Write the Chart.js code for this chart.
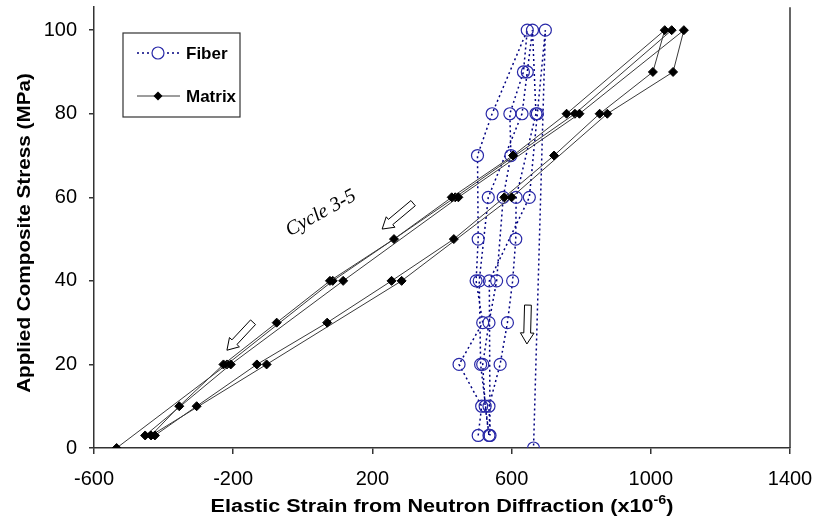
<!DOCTYPE html>
<html>
<head>
<meta charset="utf-8">
<script src="https://cdn.jsdelivr.net/npm/chart.js@4.4.1/dist/chart.umd.min.js"></script>
<style>
html,body{margin:0;padding:0;background:#fff;}
#wrap{width:815px;height:531px;position:relative;}
</style>
</head>
<body>
<div id="wrap"><canvas id="c" width="815" height="531"></canvas></div>
<script>
// ---- DATA ----
const xTicks = [-600, -200, 200, 600, 1000, 1400];
const yTicks = [0, 20, 40, 60, 80, 100];

const fiberStrain = [504, 514, 449, 517, 498, 504, 502, 544, 645, 634, 595, 598, 576, 557, 535, 517, 524, 535, 511, 507, 533, 630, 645, 660, 670, 613, 612, 603, 588, 567, 535, 538, 536, 651, 674, 697, 663];
const fiberStress = [3, 10, 20, 30, 40, 50, 70, 80, 100, 90, 80, 70, 60, 40, 30, 20, 10, 3, 20, 40, 60, 80, 90, 100, 80, 60, 50, 40, 30, 20, 10, 3, 40, 60, 80, 100, 0];

const matrixStrain = [-425, -305, -132, 70, 255, 434, 579, 722, 853, 1006, 1040, 758, 604, 428, 262, 78, -75, -228, -355, -436, -104, 284, 600, 875, 1064, 1095, 795, 447, 116, -207, -453];
const matrixStress = [3, 10, 20, 30, 40, 50, 60, 70, 80, 90, 100, 80, 70, 60, 50, 40, 30, 20, 10, 3, 20, 40, 60, 80, 90, 100, 80, 60, 40, 20, 3];

const matrixLastStrain = [1060, 782, 438, 86, -218, -535];
const matrixLastStress = [100, 80, 60, 40, 20, 0];

const seriesNames = ["Fiber", "Matrix"];
const annotationText = "Cycle 3-5";
// arrows: [x, y] in data units
const arrowTails = [[317, 58.6], [-143, 30.1], [647, 34.2]];
const arrowHeads = [[228, 52.4], [-218, 23.4], [644, 24.9]];
const annotationPos = [52, 56.2];

function pts(xs, ys) { return xs.map((x, i) => ({x: x, y: ys[i]})); }

const FONT = "'Liberation Sans', Arial, sans-serif";
const FIBER_LINE = '#000080';
const FIBER_PT = '#2828a8';
const MATRIX_LINE = '#3a3a3a';

function stretchedText(ctx, text, x, y, sx) {
  ctx.save();
  ctx.translate(x, y);
  ctx.scale(sx, 1);
  ctx.fillText(text, 0, 0);
  ctx.restore();
}

const drawPlugin = {
  id: 'extras',
  afterDraw(chart) {
    const ctx = chart.ctx;
    const a = chart.chartArea;
    const xs = chart.scales.x, ys = chart.scales.y;
    ctx.save();
    // right border
    ctx.strokeStyle = '#333';
    ctx.lineWidth = 1.5;
    ctx.beginPath();
    ctx.moveTo(a.right, a.top);
    ctx.lineTo(a.right, a.bottom);
    ctx.stroke();

    // arrows
    arrowTails.forEach((t, i) => {
      const h = arrowHeads[i];
      const x0 = xs.getPixelForValue(t[0]), y0 = ys.getPixelForValue(t[1]);
      const x1 = xs.getPixelForValue(h[0]), y1 = ys.getPixelForValue(h[1]);
      const dx = x1 - x0, dy = y1 - y0;
      const L = Math.hypot(dx, dy);
      const ux = dx / L, uy = dy / L;
      const nx = -uy, ny = ux;
      const sw = 3.4, hw = 6.8, hl = 11;
      const bx = x1 - ux * hl, by = y1 - uy * hl;
      ctx.beginPath();
      ctx.moveTo(x0 + nx * sw, y0 + ny * sw);
      ctx.lineTo(bx + nx * sw, by + ny * sw);
      ctx.lineTo(bx + nx * hw, by + ny * hw);
      ctx.lineTo(x1, y1);
      ctx.lineTo(bx - nx * hw, by - ny * hw);
      ctx.lineTo(bx - nx * sw, by - ny * sw);
      ctx.lineTo(x0 - nx * sw, y0 - ny * sw);
      ctx.closePath();
      ctx.fillStyle = '#fff';
      ctx.fill();
      ctx.strokeStyle = '#000';
      ctx.lineWidth = 1;
      ctx.stroke();
    });

    // annotation text
    ctx.save();
    ctx.translate(xs.getPixelForValue(annotationPos[0]), ys.getPixelForValue(annotationPos[1]));
    ctx.rotate(-29 * Math.PI / 180);
    ctx.font = "italic 20px 'Liberation Serif', 'Times New Roman', serif";
    ctx.fillStyle = '#000';
    ctx.textAlign = 'center';
    ctx.textBaseline = 'middle';
    ctx.fillText(annotationText, 0, 0);
    ctx.restore();

    // legend
    const lx = 123, ly = 33, lw = 117, lh = 84;
    ctx.fillStyle = '#fff';
    ctx.fillRect(lx, ly, lw, lh);
    ctx.strokeStyle = '#333';
    ctx.lineWidth = 1.2;
    ctx.strokeRect(lx, ly, lw, lh);
    const rows = [53, 96];
    ctx.strokeStyle = FIBER_LINE;
    ctx.lineWidth = 1.5;
    ctx.setLineDash([2, 3]);
    ctx.beginPath(); ctx.moveTo(137, rows[0]); ctx.lineTo(180, rows[0]); ctx.stroke();
    ctx.setLineDash([]);
    ctx.fillStyle = '#fff';
    ctx.strokeStyle = FIBER_PT;
    ctx.lineWidth = 1.2;
    ctx.beginPath(); ctx.arc(158, rows[0], 6, 0, Math.PI * 2); ctx.fill(); ctx.stroke();
    ctx.strokeStyle = MATRIX_LINE;
    ctx.lineWidth = 1;
    ctx.beginPath(); ctx.moveTo(137, rows[1]); ctx.lineTo(180, rows[1]); ctx.stroke();
    ctx.fillStyle = '#000';
    ctx.beginPath();
    ctx.moveTo(158, rows[1] - 4.5); ctx.lineTo(162.5, rows[1]); ctx.lineTo(158, rows[1] + 4.5); ctx.lineTo(153.5, rows[1]);
    ctx.closePath(); ctx.fill();
    ctx.font = "bold 17px " + FONT;
    ctx.fillStyle = '#000';
    ctx.textAlign = 'left';
    ctx.textBaseline = 'middle';
    ctx.fillText(seriesNames[0], 186, rows[0] + 1);
    ctx.fillText(seriesNames[1], 186, rows[1] + 1);

    // y title (slightly stretched along its reading direction)
    ctx.save();
    ctx.translate(25, 233);
    ctx.rotate(-Math.PI / 2);
    ctx.font = "bold 18px " + FONT;
    ctx.textAlign = 'center';
    ctx.textBaseline = 'middle';
    stretchedText(ctx, 'Applied Composite Stress (MPa)', 0, 0, 1.15);
    ctx.restore();

    // x title with superscript
    const sx = 1.2;
    const t1 = 'Elastic Strain from Neutron Diffraction (x10';
    const t2 = '-6';
    const t3 = ')';
    const f1 = "bold 18px " + FONT, f2 = "bold 12px " + FONT;
    ctx.font = f1; const w1 = ctx.measureText(t1).width * sx; const w3 = ctx.measureText(t3).width * sx;
    ctx.font = f2; const w2 = ctx.measureText(t2).width * sx;
    const total = w1 + w2 + w3;
    let cx = (a.left + a.right) / 2 - total / 2;
    const by = 512;
    ctx.textAlign = 'left';
    ctx.textBaseline = 'alphabetic';
    ctx.font = f1; stretchedText(ctx, t1, cx, by, sx); cx += w1;
    ctx.font = f2; stretchedText(ctx, t2, cx, by - 8, sx); cx += w2;
    ctx.font = f1; stretchedText(ctx, t3, cx, by, sx);
    ctx.restore();
  }
};

const chart = new Chart(document.getElementById('c'), {
  type: 'scatter',
  data: {
    datasets: [
      {
        label: seriesNames[1],
        data: pts(matrixStrain, matrixStress),
        showLine: true,
        borderColor: MATRIX_LINE,
        borderWidth: 1,
        pointStyle: 'rectRot',
        pointRadius: 4.5,
        pointBackgroundColor: '#000',
        pointBorderColor: '#000',
        pointBorderWidth: 1,
        tension: 0,
        order: 0
      },
      {
        label: seriesNames[1] + ' (cycle 5)',
        data: pts(matrixLastStrain, matrixLastStress),
        showLine: true,
        borderColor: MATRIX_LINE,
        borderWidth: 1,
        pointStyle: 'rectRot',
        pointRadius: 4.5,
        pointBackgroundColor: '#000',
        pointBorderColor: '#000',
        pointBorderWidth: 1,
        tension: 0,
        order: 0
      },
      {
        label: seriesNames[0],
        data: pts(fiberStrain, fiberStress),
        showLine: true,
        borderColor: FIBER_LINE,
        borderWidth: 1.5,
        borderDash: [2, 3],
        pointStyle: 'circle',
        pointRadius: 6,
        pointBackgroundColor: 'rgba(255,255,255,0)',
        pointBorderColor: FIBER_PT,
        pointBorderWidth: 1.2,
        tension: 0,
        order: 1
      }
    ]
  },
  options: {
    responsive: false,
    animation: false,
    devicePixelRatio: 1,
    layout: { padding: { left: 0, right: 25, top: 3, bottom: 0 } },
    plugins: { legend: { display: false }, tooltip: { enabled: false } },
    scales: {
      x: {
        type: 'linear',
        min: xTicks[0],
        max: xTicks[xTicks.length - 1],
        afterBuildTicks: s => { s.ticks = xTicks.map(v => ({value: v})); },
        afterFit: s => { s.height = 83; s.paddingLeft = 0; s.paddingRight = 0; },
        grid: { drawOnChartArea: false, drawTicks: true, tickLength: 6, color: '#333', lineWidth: 1.5 },
        border: { display: true, color: '#333', width: 1.5 },
        ticks: { color: '#000', font: { family: FONT, size: 20 }, padding: 13, maxRotation: 0, callback: v => String(v) }
      },
      y: {
        type: 'linear',
        min: 0,
        max: 105.5,
        afterBuildTicks: s => { s.ticks = yTicks.map(v => ({value: v})); },
        afterFit: s => { s.width = 94; s.paddingTop = 0; s.paddingBottom = 0; },
        grid: { drawOnChartArea: false, drawTicks: true, tickLength: 5, color: '#333', lineWidth: 1.5 },
        border: { display: true, color: '#333', width: 1.5 },
        ticks: { color: '#000', font: { family: FONT, size: 20 }, padding: 12, callback: v => String(v) }
      }
    }
  },
  plugins: [drawPlugin]
});
</script>
</body>
</html>
